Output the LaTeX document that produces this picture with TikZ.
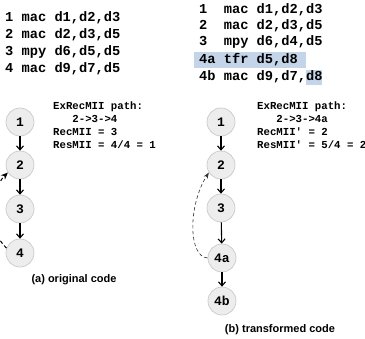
\documentclass[tikz,border=0pt]{standalone}
\usepackage{fontspec}
\setmonofont{Liberation Mono}
\setsansfont{Liberation Sans}
\usetikzlibrary{arrows.meta}
\definecolor{hlblue}{HTML}{C5D5E9}
\definecolor{nodefill}{HTML}{EDEDED}
\definecolor{nodeline}{HTML}{CACACA}
\tikzset{
  codeline/.style={anchor=base west, inner sep=0pt, font=\ttfamily\bfseries\fontsize{13.7}{16}\selectfont},
  note/.style={anchor=base west, inner sep=0pt, align=left, font=\ttfamily\bfseries\fontsize{10.7}{13}\selectfont},
  caption/.style={anchor=base, inner sep=0pt, font=\sffamily\bfseries\fontsize{11}{13}\selectfont},
  opnode/.style={circle, draw=nodeline, fill=nodefill, line width=0.7pt, minimum size=28pt, inner sep=0pt,
    font=\ttfamily\bfseries\fontsize{13}{15}\selectfont},
  dep/.style={line width=1.1pt, -{Straight Barb[length=4pt,width=7pt,line width=1.1pt]}},
  carried/.style={draw=black!80, dash pattern=on 3.5pt off 2.5pt, line width=0.6pt,
    -{Stealth[length=6pt,width=4.5pt,fill=black!80]}},
}
\begin{document}
\begin{tikzpicture}[x=1pt,y=-1pt]
\useasboundingbox (0,0) rectangle (365,339);
\clip (0,0) rectangle (365,339);

% original listing
\node[codeline] (a1) at (5,22) {1 mac d1,d2,d3};
\node[codeline] (a2) at (5,39) {2 mac d2,d3,d5};
\node[codeline] (a3) at (5,56) {3 mpy d6,d5,d5};
\node[codeline] (a4) at (5,73) {4 mac d9,d7,d5};

% transformed listing, with the inserted transfer highlighted
\fill[hlblue] (194,52) rectangle (306,68);
\fill[hlblue] (306,70.5) rectangle (322,85);
\node[codeline] (b1) at (199,13.5) {1\ \ mac d1,d2,d3};
\node[codeline] (b2) at (199,29.5) {2\ \ mac d2,d3,d5};
\node[codeline] (b3) at (199,45.5) {3\ \ mpy d6,d4,d5};
\node[codeline] (b4a) at (199,64) {4a tfr d5,d8};
\node[codeline] (b4b) at (199,81) {4b mac d9,d7,d8};

% dependence graph of the original code
\node[opnode] (n1) at (20,122) {1};
\node[opnode] (n2) at (20,165) {2};
\node[opnode] (n3) at (20,209) {3};
\node[opnode] (n4) at (20,253) {4};
\draw[dep] (n1) -- (n2);
\draw[dep] (n2) -- (n3);
\draw[dep] (n3) -- (n4);
\draw[carried, draw=black, line width=1pt, -{Stealth[length=7pt,width=6pt]}] (n4.160) .. controls (-12,232) and (-10,190) .. (n2.212);

\node[note] (ta) at (53,148.5) {ExRecMII path:\\\ \ \ 2->3->4\\RecMII = 3\\ResMII = 4/4 = 1};
\node[caption] (ca) at (74,283) {(a) original code};

% dependence graph of the transformed code
\node[opnode] (m1) at (221,122) {1};
\node[opnode] (m2) at (221,165) {2};
\node[opnode] (m3) at (221,208) {3};
\node[opnode] (m4a) at (222,258) {4a};
\node[opnode] (m4b) at (222,301) {4b};
\draw[dep] (m1) -- (m2);
\draw[dep] (m2) -- (m3);
\draw[dep] (m3) -- (m4a);
\draw[dep] (m4a) -- (m4b);
\draw[carried] (m4a.west) .. controls (188,257) and (188,205) .. (m2.212);

\node[note] (tb) at (257,148.5) {ExRecMII path:\\\ \ \ 2->3->4a\\RecMII' = 2\\ResMII' = 5/4 = 2};
\node[caption] (cb) at (280,333) {(b) transformed code};
\end{tikzpicture}
\end{document}
